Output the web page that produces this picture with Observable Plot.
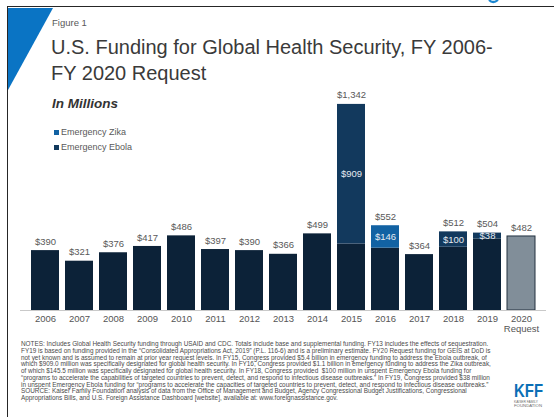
<!DOCTYPE html>
<html>
<head>
<meta charset="utf-8">
<script src="https://cdn.jsdelivr.net/npm/d3@7"></script>
<script src="https://cdn.jsdelivr.net/npm/@observablehq/plot@0.6"></script>
<style>
  html, body { margin: 0; padding: 0; background: #fff; }
  #page { position: relative; width: 554px; height: 417px; overflow: hidden; background: #fff;
          font-family: "Liberation Sans", Arial, sans-serif; }
  .abs { position: absolute; white-space: pre; }
  #frame { position: absolute; left: 7px; top: 6px; width: 560px; height: 420px;
           border-left: 1.6px solid #262626; border-top: 1.6px solid #262626; }
  #fig { left: 52px; top: 17px; font-size: 9.5px; color: #595959; }
  #title { left: 51px; top: 34px; font-size: 20px; line-height: 26px; color: #3a3a3a; }
  #unit { left: 52px; top: 96px; font-size: 13.5px; font-weight: bold; font-style: italic; color: #333; }
  .leg { left: 54px; font-size: 9px; color: #595959; display: flex; align-items: center; }
  .leg span.sw { display: inline-block; width: 5px; height: 5px; margin-right: 2px; }
  #notes { left: 21px; top: 341px; font-size: 6.4px; line-height: 6.75px; color: #4a4a4a; }
  #chart { position: absolute; left: 0; top: 85px; }
  #chart svg { overflow: visible; }
</style>
</head>
<body>
<div id="page">
  <svg class="abs" style="left:0;top:0" width="554" height="417">
    <polygon points="8,8 53,8 8,90" fill="#0a74c4"></polygon>
    <path d="M489,0 Q493,4 498,0" stroke="#1a86d0" stroke-width="2.2" fill="none"></path>
  </svg>
  <div id="frame"></div>
  <div id="chart"></div>
  <div class="abs" id="fig">Figure 1</div>
  <div class="abs" id="title">U.S. Funding for Global Health Security, FY 2006-
FY 2020 Request</div>
  <div class="abs" id="unit">In Millions</div>
  <div id="legend"></div>
  <div class="abs" id="notes"></div>
  <svg class="abs" style="left:510px;top:380px" width="44" height="34">
    <text x="4" y="17" font-family="Liberation Sans Narrow, Liberation Sans, Arial" font-weight="bold" font-size="18" fill="#0b6fb6" textLength="29" lengthAdjust="spacingAndGlyphs">KFF</text>
    <text x="4" y="23" font-family="Liberation Sans, Arial" font-size="2.8" fill="#6b6b6b" textLength="24" lengthAdjust="spacingAndGlyphs">KAISER FAMILY</text>
    <text x="4" y="27" font-family="Liberation Sans, Arial" font-size="2.8" fill="#6b6b6b" textLength="28" lengthAdjust="spacingAndGlyphs">FOUNDATION</text>
  </svg>
</div>
<script>
// ---- Data ----
const years = ["2006","2007","2008","2009","2010","2011","2012","2013","2014","2015","2016","2017","2018","2019","2020"];
const baseFunding = [390, 321, 376, 417, 486, 397, 390, 366, 499, 433, 406, 364, 412, 466, 0];
const requestFunding = [0, 0, 0, 0, 0, 0, 0, 0, 0, 0, 0, 0, 0, 0, 482];
const emergencyEbola = [0, 0, 0, 0, 0, 0, 0, 0, 0, 909, 0, 0, 100, 38, 0];
const emergencyZika = [0, 0, 0, 0, 0, 0, 0, 0, 0, 0, 146, 0, 0, 0, 0];
const seriesNames = ["Base", "Request", "Emergency Ebola", "Emergency Zika"];
const seriesColors = ["#0c2238", "#818e99", "#12395d", "#1262a3"];
const legendItems = ["Emergency Zika", "Emergency Ebola"];
const notesLines = [
  "NOTES: Includes Global Health Security funding through USAID and CDC. Totals include base and supplemental funding. FY13 includes the effects of sequestration.",
  "FY19 is based on funding provided in the \u201cConsolidated Appropriations Act, 2019\u201d (P.L. 116-6) and is a preliminary estimate. FY20 Request funding for GEIS at DoD is",
  "not yet known and is assumed to remain at prior year request levels. In FY15, Congress provided $5.4 billion in emergency funding to address the Ebola outbreak, of",
  "which $909.0 million was specifically designated for global health security. In FY16, Congress provided $1.1 billion in emergency funding to address the Zika outbreak,",
  "of which $145.5 million was specifically designated for global health security. In FY18, Congress provided  $100 million in unspent Emergency Ebola funding for",
  "\u201cprograms to accelerate the capabilities of targeted countries to prevent, detect, and respond to infectious disease outbreaks.\u201d In FY19, Congress provided $38 million",
  "in unspent Emergency Ebola funding for \u201cprograms to accelerate the capacities of targeted countries to prevent, detect, and respond to infectious disease outbreaks.\u201d",
  "SOURCE: Kaiser Family Foundation analysis of data from the Office of Management and Budget, Agency Congressional Budget Justifications, Congressional",
  "Appropriations Bills, and U.S. Foreign Assistance Dashboard [website], available at: www.foreignassistance.gov."
];

// ---- Derived tables ----
const long = [];
const segLabels = [];
const totals = [];
years.forEach((year, i) => {
  const base = baseFunding[i] + requestFunding[i];
  long.push({year, series: requestFunding[i] ? "Request" : "Base", value: base});
  if (emergencyEbola[i]) {
    long.push({year, series: "Emergency Ebola", value: emergencyEbola[i]});
    segLabels.push({year, mid: base + emergencyEbola[i] / 2, value: emergencyEbola[i]});
  }
  if (emergencyZika[i]) {
    long.push({year, series: "Emergency Zika", value: emergencyZika[i]});
    segLabels.push({year, mid: base + emergencyZika[i] / 2, value: emergencyZika[i]});
  }
  totals.push({year, total: base + emergencyEbola[i] + emergencyZika[i]});
});
const fmt = d3.format(",");

const chart = Plot.plot({
  width: 554,
  height: 250,
  marginTop: 10,
  marginBottom: 25,
  marginLeft: 20,
  marginRight: 8,
  style: {fontFamily: "Liberation Sans, Arial, sans-serif", fontSize: "9.5px", color: "#555", background: "transparent", overflow: "visible"},
  x: {domain: years, padding: 0.18, label: null, tickSize: 0, tickPadding: 5,
      tickFormat: d => d === "2020" ? "2020\nRequest" : d},
  y: {domain: [0, 1400], axis: null},
  color: {domain: seriesNames, range: seriesColors},
  marks: [
    Plot.barY(long, {x: "year", y: "value", fill: "series"}),
    Plot.barY(long.filter(d => d.series === "Request"), {x: "year", y: "value", fill: "none", stroke: "#22313f", strokeWidth: 1}),
    Plot.ruleY([0], {stroke: "#c9c9c9", strokeWidth: 1}),
    Plot.text(totals, {x: "year", y: "total", text: d => "$" + fmt(d.total), dy: -9, fill: "#595959", fontSize: 9.5}),
    Plot.text(segLabels, {x: "year", y: "mid", text: d => "$" + fmt(d.value), fill: "#e6ebf1", fontSize: 9.5})
  ]
});
document.getElementById("chart").appendChild(chart);

// legend
const legend = document.getElementById("legend");
legendItems.forEach((name, k) => {
  const div = document.createElement("div");
  div.className = "abs leg";
  div.style.top = (127 + k * 15) + "px";
  const sw = document.createElement("span");
  sw.className = "sw";
  sw.style.background = seriesColors[seriesNames.indexOf(name)];
  div.appendChild(sw);
  div.appendChild(document.createTextNode(name));
  legend.appendChild(div);
});

document.getElementById("notes").textContent = notesLines.join("\n");
</script>
</body>
</html>
